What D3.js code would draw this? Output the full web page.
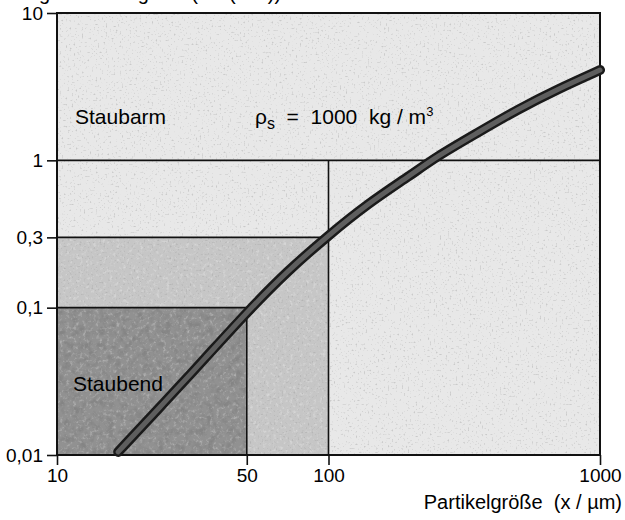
<!DOCTYPE html>
<html>
<head>
<meta charset="utf-8">
<script src="https://cdn.jsdelivr.net/npm/d3@7"></script>
<style>
  body { margin: 0; background: #fff; }
  text { font-family: "Liberation Sans", Arial, sans-serif; fill: #000; white-space: pre; }
</style>
</head>
<body>
<svg id="chart" width="625" height="520"></svg>
<script>
// data
const xTicks = [10, 50, 100, 1000];
const xTickLabels = ["10", "50", "100", "1000"];
const yTicks = [0.01, 0.1, 0.3, 1, 10];
const yTickLabels = ["0,01", "0,1", "0,3", "1", "10"];

// sink speed curve (particle size in µm, speed in m/s)
const sizeUm  = [16.8, 25, 35, 50, 70, 100, 140, 200, 250, 350, 500, 700, 1000];
const speedMs = [0.0105, 0.023, 0.045, 0.093, 0.175, 0.31, 0.51, 0.79, 1.06, 1.52, 2.23, 3.05, 4.1];

// shaded zones: [x upper limit, y upper limit]
const zoneMid  = [100, 0.3];
const zoneDark = [50, 0.1];

const svg = d3.select("#chart");
const mLeft = 57, mRight = 600, mTop = 13, mBottom = 455;

const x = d3.scaleLog().domain([10, 1000]).range([mLeft, mRight]);
const y = d3.scaleLog().domain([0.01, 10]).range([mBottom, mTop]);

// speckle filters (scanned look)
const defs = svg.append("defs");
function grain(id, freq, oct, seed, rgb, gain, offset) {
  const f = defs.append("filter").attr("id", id)
    .attr("x", 0).attr("y", 0).attr("width", 1).attr("height", 1);
  f.append("feTurbulence").attr("type", "fractalNoise")
    .attr("baseFrequency", freq).attr("numOctaves", oct).attr("seed", seed);
  f.append("feColorMatrix").attr("type", "matrix")
    .attr("values", `0 0 0 0 ${rgb}  0 0 0 0 ${rgb}  0 0 0 0 ${rgb}  ${gain} 0 0 0 ${offset}`);
}
grain("darkSpeck", 0.5, 2, 4, 0.3, 6, -3.7);
grain("lightSpeck", 0.3, 3, 9, 1, 3, -1.6);
grain("mottle", 0.14, 3, 2, 0.1, 3, -1.3);

// cut-off title at the very top
svg.append("text")
  .attr("x", 0).attr("y", 0)
  .style("font-size", "20px")
  .text("Sinkgeschwindigkeit  (w / (m/s))");

// background zones
const plotW = x(1000) - x(10), plotH = y(0.01) - y(10);
svg.append("rect")
  .attr("x", x(10)).attr("y", y(10)).attr("width", plotW).attr("height", plotH)
  .attr("fill", "#e8e8e8");

svg.append("rect")
  .attr("x", x(10)).attr("y", y(zoneMid[1]))
  .attr("width", x(zoneMid[0]) - x(10)).attr("height", y(0.01) - y(zoneMid[1]))
  .attr("fill", "#c6c6c6");

svg.append("rect")
  .attr("x", x(10)).attr("y", y(zoneDark[1]))
  .attr("width", x(zoneDark[0]) - x(10)).attr("height", y(0.01) - y(zoneDark[1]))
  .attr("fill", "#919191");

// texture overlays
svg.append("rect")
  .attr("x", x(10)).attr("y", y(10)).attr("width", plotW).attr("height", plotH)
  .attr("filter", "url(#darkSpeck)").attr("opacity", 0.35);
svg.append("rect")
  .attr("x", x(10)).attr("y", y(zoneMid[1]))
  .attr("width", x(zoneMid[0]) - x(10)).attr("height", y(0.01) - y(zoneMid[1]))
  .attr("filter", "url(#lightSpeck)").attr("opacity", 0.3);
svg.append("rect")
  .attr("x", x(10)).attr("y", y(zoneDark[1]))
  .attr("width", x(zoneDark[0]) - x(10)).attr("height", y(0.01) - y(zoneDark[1]))
  .attr("filter", "url(#mottle)").attr("opacity", 0.22);

// grid lines bounding the zones
const lines = svg.append("g").attr("stroke", "#111").attr("stroke-width", 1.6);
lines.append("line").attr("x1", x(10)).attr("x2", x(1000)).attr("y1", y(1)).attr("y2", y(1));
lines.append("line").attr("x1", x(100)).attr("x2", x(100)).attr("y1", y(1)).attr("y2", y(0.01));
lines.append("line").attr("x1", x(10)).attr("x2", x(zoneMid[0])).attr("y1", y(zoneMid[1])).attr("y2", y(zoneMid[1]));
lines.append("line").attr("x1", x(10)).attr("x2", x(zoneDark[0])).attr("y1", y(zoneDark[1])).attr("y2", y(zoneDark[1]));
lines.append("line").attr("x1", x(zoneDark[0])).attr("x2", x(zoneDark[0])).attr("y1", y(zoneDark[1])).attr("y2", y(0.01));

// frame
svg.append("rect")
  .attr("x", x(10)).attr("y", y(10)).attr("width", plotW).attr("height", plotH)
  .attr("fill", "none").attr("stroke", "#111").attr("stroke-width", 2);

// axes
const yAxis = svg.append("g")
  .attr("transform", `translate(${mLeft},0)`)
  .call(d3.axisLeft(y).tickValues(yTicks).tickSize(10).tickPadding(4)
    .tickFormat((d, i) => yTickLabels[i]));
const xAxis = svg.append("g")
  .attr("transform", `translate(0,${mBottom})`)
  .call(d3.axisBottom(x).tickValues(xTicks).tickSize(10).tickPadding(4)
    .tickFormat((d, i) => xTickLabels[i]));
[yAxis, xAxis].forEach(a => {
  a.select(".domain").remove();
  a.selectAll("line").attr("stroke", "#111").attr("stroke-width", 1.6);
  a.selectAll("text").style("font-size", "19px").attr("fill", "#000");
});

// curve
const pts = sizeUm.map((s, i) => [x(s), y(speedMs[i])]);
const line = d3.line().curve(d3.curveBasis);
svg.append("path").attr("d", line(pts))
  .attr("fill", "none").attr("stroke", "#1a1a1a")
  .attr("stroke-width", 10).attr("stroke-linecap", "round");
svg.append("path").attr("d", line(pts))
  .attr("fill", "none").attr("stroke", "#5e5e5e")
  .attr("stroke-width", 5).attr("stroke-linecap", "round");

// labels
svg.append("text").attr("x", 75).attr("y", 124)
  .style("font-size", "21px").text("Staubarm");
const rho = svg.append("text").attr("x", 255).attr("y", 124).style("font-size", "21px");
rho.append("tspan").text("ρ");
rho.append("tspan").attr("dy", 5).style("font-size", "16px").text("s");
rho.append("tspan").attr("dy", -5).text("  =  1000  kg / m");
rho.append("tspan").attr("dy", -8).style("font-size", "13px").text("3");

svg.append("text").attr("x", 73).attr("y", 391)
  .style("font-size", "21px").text("Staubend");

svg.append("text").attr("x", 622).attr("y", 509)
  .attr("text-anchor", "end")
  .style("font-size", "20px").text("Partikelgröße  (x / µm)");
</script>
</body>
</html>
